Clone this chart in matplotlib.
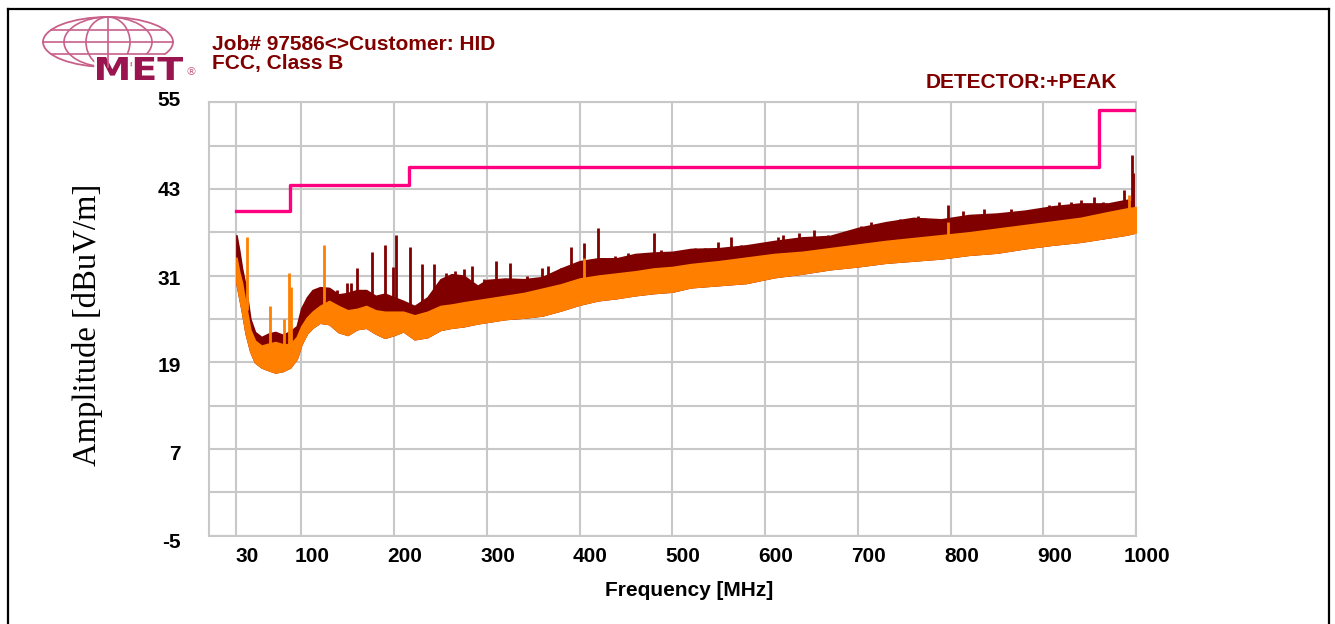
import matplotlib
matplotlib.use("Agg")
import matplotlib.pyplot as plt
import numpy as np
from matplotlib.patches import Ellipse, PathPatch
from matplotlib.textpath import TextPath
from matplotlib.font_manager import FontProperties
from matplotlib.transforms import Affine2D, ScaledTranslation

W, H = 1335, 624

# envelope anchors (MHz, dBuV/m)
freq = [30, 33, 36, 40, 45, 50, 57, 65, 72, 80, 88, 95, 100, 106, 112, 120, 130,
        140, 150, 160, 170, 180, 190, 200, 210, 222, 236, 250, 262, 275, 290, 300,
        320, 340, 360, 380, 400, 420, 440, 460, 480, 500, 520, 550, 580, 610, 640,
        670, 700, 730, 760, 790, 820, 850, 880, 910, 940, 970, 990, 1000]
peak_top = [36.6, 34.5, 32.0, 29.5, 25.0, 23.2, 22.5, 23.0, 23.2, 22.8, 23.3, 24.0,
            26.5, 28.0, 29.0, 29.4, 29.3, 28.4, 28.6, 29.0, 29.0, 28.2, 28.5, 28.0,
            27.5, 26.8, 28.0, 30.5, 31.2, 31.0, 29.6, 30.4, 30.6, 30.5, 30.8, 32.0,
            33.0, 33.4, 33.4, 34.0, 34.2, 34.3, 34.7, 34.8, 35.2, 35.8, 36.3, 36.5,
            37.6, 38.4, 39.0, 38.8, 39.4, 39.6, 40.0, 40.6, 41.0, 41.0, 41.5, 41.0]
avg_top = [33.5, 31.5, 30.0, 27.0, 23.5, 22.0, 21.3, 21.6, 21.8, 21.5, 21.5, 22.5,
           24.0, 25.2, 26.0, 26.8, 27.5, 26.8, 26.2, 26.4, 26.8, 26.2, 26.0, 26.0,
           26.0, 25.5, 26.0, 26.8, 27.0, 27.3, 27.6, 27.8, 28.2, 28.6, 29.2, 29.8,
           30.6, 31.0, 31.3, 31.6, 32.0, 32.2, 32.6, 33.0, 33.5, 34.0, 34.3, 34.8,
           35.3, 35.8, 36.2, 36.6, 37.0, 37.5, 38.0, 38.5, 39.0, 39.8, 40.3, 40.5]
avg_bot = [30.0, 28.0, 26.0, 23.0, 20.5, 19.0, 18.3, 17.9, 17.6, 17.8, 18.3, 19.5,
           21.5, 23.0, 23.8, 24.5, 24.3, 23.2, 22.8, 23.6, 23.8, 23.0, 22.4, 22.8,
           23.3, 22.2, 22.5, 23.5, 23.8, 24.0, 24.4, 24.6, 25.0, 25.2, 25.5, 26.2,
           27.0, 27.6, 27.9, 28.3, 28.6, 28.8, 29.4, 29.7, 30.0, 30.8, 31.3, 31.9,
           32.3, 32.8, 33.1, 33.4, 33.9, 34.2, 34.8, 35.3, 35.7, 36.3, 36.7, 37.0]

# single spikes sticking out of the bands
peak_spk_f = [138, 149, 154, 160, 176, 190, 199, 202, 217, 230, 243, 256, 266, 275,
              284, 297, 310, 325, 343, 360, 366, 380, 388, 391, 405, 420, 429, 438,
              452, 463, 480, 488, 513, 524, 535, 549, 563, 574, 588, 605, 614, 619,
              637, 653, 668, 689, 704, 714, 725, 745, 765, 772, 797, 813, 836, 865,
              878, 906, 917, 930, 941, 955, 964, 987, 996, 998]
peak_spk_v = [29.0, 30.0, 30.0, 32.0, 34.3, 35.3, 32.2, 36.6, 35.0, 32.6, 32.6, 31.4,
              31.7, 31.9, 32.3, 30.6, 33.1, 32.8, 30.9, 32.0, 32.3, 32.0, 32.3, 35.0,
              35.5, 37.6, 33.5, 33.7, 34.1, 34.0, 36.9, 34.6, 34.6, 34.9, 34.8, 35.7,
              36.4, 35.2, 35.0, 35.7, 36.4, 36.6, 36.9, 37.3, 36.6, 37.1, 37.9, 38.5,
              38.2, 38.8, 39.2, 39.0, 40.8, 39.9, 40.3, 40.2, 40.0, 40.8, 41.2, 41.2,
              41.5, 41.9, 41.2, 42.9, 47.7, 45.2]
avg_spk_f = [41, 66, 81, 87, 89, 124, 405, 797, 992]
avg_spk_v = [36.4, 26.8, 25.0, 31.4, 29.5, 35.3, 33.5, 38.5, 42.2]

# FCC class B limit
limit_f = [30, 88, 88, 216, 216, 960, 960, 1000]
limit_v = [40, 40, 43.5, 43.5, 46, 46, 54, 54]

x_ticks = [30, 100, 200, 300, 400, 500, 600, 700, 800, 900, 1000]
y_ticks = [-5, 1, 7, 13, 19, 25, 31, 37, 43, 49, 55]

PEAK = "#800000"
AVG = "#ff8000"
LIM = "#ff0080"
GRID = "#c8c8c8"
FS = 15

fig = plt.figure(figsize=(W / 100, H / 100), dpi=100)

# overlay in pixel coords for frame, logo and header texts
ov = fig.add_axes([0, 0, 1, 1], zorder=0)
ov.set_xlim(0, W)
ov.set_ylim(H, 0)
ov.axis("off")
ov.plot([8, 8], [9, H], color="black", lw=1.6)
ov.plot([8, 1329], [9, 9], color="black", lw=1.6)
ov.plot([1329, 1329], [9, H], color="black", lw=1.6)

# MET logo
LOGO = "#c8608a"
cx, cy, ew, eh = 108, 42, 130, 50
ov.add_patch(Ellipse((cx, cy), ew, eh, fill=False, ec=LOGO, lw=1.3))
for w in [44, 88]:
    ov.add_patch(Ellipse((cx, cy), w, eh, fill=False, ec=LOGO, lw=1.2))
ov.plot([cx, cx], [cy - eh / 2, cy + eh / 2], color=LOGO, lw=1.2)
for yy in [30, 42, 54]:
    half = ew / 2 * np.sqrt(1 - ((yy - cy) / (eh / 2)) ** 2)
    ov.plot([cx - half, cx + half], [yy, yy], color=LOGO, lw=1.2)
tp = TextPath((0, 0), "MET", prop=FontProperties(family="DejaVu Sans", weight="bold"))
bb = tp.get_extents()
tr = Affine2D().translate(-bb.x0, -bb.y0).scale(86 / bb.width, -23 / bb.height).translate(97, 80)
mp = tr.transform_path(tp)
ov.add_patch(PathPatch(mp, fc="white", ec="white", lw=4))
ov.add_patch(PathPatch(mp, fc="#9a1450", ec="none"))
ov.text(191, 72, "\u00ae", fontsize=8, color=LOGO, ha="center", va="center")

ov.text(212, 45, "Job# 97586<>Customer: HID", fontsize=FS, fontweight="bold",
        color=PEAK, va="center", family="Liberation Sans")
ov.text(212, 64, "FCC, Class B", fontsize=FS, fontweight="bold",
        color=PEAK, va="center", family="Liberation Sans")
ov.text(1021, 83, "DETECTOR:+PEAK", fontsize=FS, fontweight="bold", color=PEAK,
        ha="center", va="center", family="Liberation Sans")
ov.text(88, 325, "Amplitude [dBuV/m]", fontsize=23.5, family="Liberation Serif",
        rotation=90, ha="center", va="center")
ov.text(689, 590, "Frequency [MHz]", fontsize=FS, fontweight="bold",
        ha="center", va="center", family="Liberation Sans")

# data axes
ax = fig.add_axes([208.6 / W, 1 - 535.6 / H, (1136 - 208.6) / W, (535.6 - 102.4) / H], zorder=1)
ax.set_facecolor("white")
ax.set_xlim(0, 1000)
ax.set_ylim(-5, 55)

f = np.array(freq)
ax.fill_between(f, avg_bot, peak_top, color=PEAK, lw=1.2, zorder=2)
base = np.interp(peak_spk_f, f, avg_top)
ax.vlines(peak_spk_f, base, peak_spk_v, color=PEAK, lw=2.0, zorder=2)
ax.fill_between(f, avg_bot, avg_top, color=AVG, lw=1.2, zorder=3)
base = np.interp(avg_spk_f, f, avg_top)
ax.vlines(avg_spk_f, base, avg_spk_v, color=AVG, lw=2.0, zorder=3)
ax.plot(limit_f, limit_v, color=LIM, lw=2.4, zorder=4)

ax.set_xticks(x_ticks)
ax.set_xticklabels([str(v) for v in x_ticks])
ax.set_yticks(y_ticks)
ax.set_yticklabels([str(v) if i % 2 == 0 else "" for i, v in enumerate(y_ticks)])
ax.grid(True, color=GRID, lw=1.5, zorder=1)
ax.set_axisbelow(True)
ax.tick_params(length=0, labelsize=FS)
ax.tick_params(axis="x", pad=8)
ax.tick_params(axis="y", pad=20)
for lab in ax.get_xticklabels() + ax.get_yticklabels():
    lab.set_fontweight("bold")
    lab.set_family("Liberation Sans")
for lab in ax.get_xticklabels():
    lab.set_transform(lab.get_transform() + ScaledTranslation(0.11, 0, fig.dpi_scale_trans))
# the original spreads the y labels a little beyond the grid lines
y_shift = [-5, 0, -4, 0, -2, 0, -2, 0, 1, 0, 4]
for lab, dy in zip(ax.get_yticklabels(), y_shift):
    lab.set_transform(lab.get_transform() + ScaledTranslation(0, dy / 100, fig.dpi_scale_trans))
for s in ax.spines.values():
    s.set_color(GRID)
    s.set_linewidth(1.5)

fig.savefig("out.png", dpi=100)
